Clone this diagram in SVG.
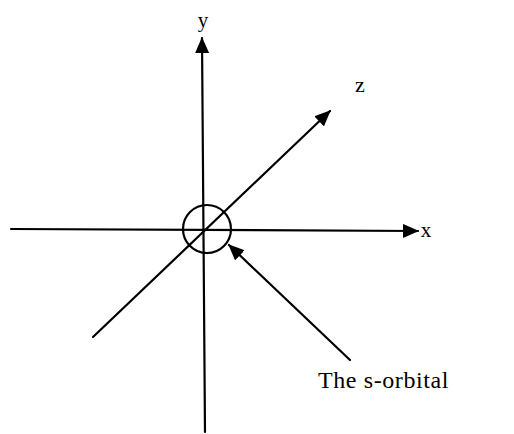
<svg xmlns="http://www.w3.org/2000/svg" width="514" height="434" viewBox="0 0 514 434">
<defs>
<style>
.ax{stroke:#000;stroke-width:2.2;fill:none;stroke-linecap:round}
.lbl{font-family:"Liberation Serif","Times New Roman",serif;fill:#000}
</style>
<marker id="ah" viewBox="0 0 16 14" refX="15" refY="7" markerWidth="16" markerHeight="14" markerUnits="userSpaceOnUse" orient="auto">
<path d="M0,0 L16,7 L0,14 Z" fill="#000"/>
</marker>
</defs>
<rect width="514" height="434" fill="#fff"/>
<g id="connectors">
<line id="y-axis" class="ax" x1="205" y1="432" x2="202" y2="38" marker-end="url(#ah)"/>
<line id="x-axis" class="ax" x1="11" y1="229" x2="418" y2="231" marker-end="url(#ah)"/>
<line id="z-axis" class="ax" x1="93" y1="337" x2="330" y2="111" marker-end="url(#ah)"/>
<line id="pointer" class="ax" x1="350" y1="360" x2="229" y2="245" marker-end="url(#ah)"/>
</g>
<g id="orbital">
<circle cx="207" cy="229" r="24" class="ax"/>
</g>
<g id="labels">
<text class="lbl" x="203" y="27" font-size="21" text-anchor="middle">y</text>
<text class="lbl" x="360" y="92" font-size="22" text-anchor="middle">z</text>
<text class="lbl" x="426" y="237" font-size="21" text-anchor="middle">x</text>
<text class="lbl" x="318" y="388" font-size="24" letter-spacing="0.6">The s-orbital</text>
</g>
</svg>
